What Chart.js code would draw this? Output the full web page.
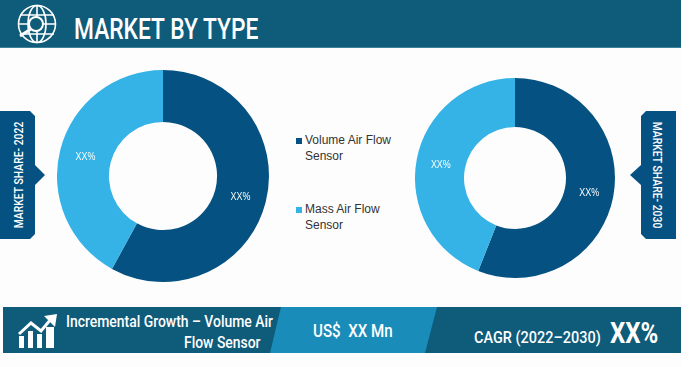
<!DOCTYPE html>
<html lang="en">
<head>
<meta charset="UTF-8" />
<title>Market by Type</title>
<script src="https://cdn.jsdelivr.net/npm/chart.js"></script>
<style>
  html, body { margin: 0; padding: 0; background: #fff; }
  body { width: 690px; height: 367px; position: relative; overflow: hidden; font-family: Roboto, sans-serif; }
  #page { position: absolute; left: 0; top: 0; width: 681px; height: 367px; background: #fdfdfd; }
  canvas { position: absolute; }
  #shapes { position: absolute; left: 0; top: 0; }
  .t { position: absolute; color: #fff; white-space: nowrap; font-weight: 500; transform-origin: left top; }
  .side { position: absolute; color: #fff; white-space: nowrap; font-size: 13px; font-weight: 500; }
  #legend div { position: absolute; font: 12px/15.5px "Liberation Sans", Arial, sans-serif; color: #333; }
  #legend i { position: absolute; width: 6px; height: 6px; }
</style>
</head>
<body>
<div id="page"></div>
<svg id="shapes" width="690" height="367" fill="none">
  <rect x="0" y="0" width="681" height="48" fill="#0f5b7a"/>
  <rect x="0" y="47" width="681" height="1" fill="#3d8099"/>
  <rect x="3" y="307" width="678" height="46" fill="#0f5b7a"/>
  <polygon points="281,307 437,307 425,353 270,353" fill="#1a8cba"/>
  <polygon points="0,111 30,111 35,116 35,165 45,175 35,185 35,234 30,239 0,239" fill="#055282"/>
  <polygon points="676,111 646,111 641,116 641,165 630,175 641,185 641,234 646,239 676,239" fill="#055282"/>
  <!-- globe icon -->
  <g stroke="#fff" stroke-width="1.6">
    <circle cx="37" cy="24" r="18.5"/>
    <ellipse cx="37" cy="24" rx="9" ry="18.5"/>
    <path d="M37 5.5V42.5M20 15H54M19 24H55M20 34H54"/>
  </g>
  <circle cx="36" cy="24" r="7" fill="#0f5b7a" stroke="#fff" stroke-width="2"/>
  <path d="M31 29L20 36" stroke="#fff" stroke-width="3"/>
  <!-- growth icon -->
  <g fill="#fff">
    <rect x="19" y="336" width="5" height="12"/><rect x="28" y="331" width="5" height="17"/>
    <rect x="37" y="334" width="5" height="14"/><rect x="46" y="327" width="8" height="21"/>
    <polygon points="44,316 57,314 55,327"/>
  </g>
  <polyline points="19,334 31,323 41,331 51,319" stroke="#fff" stroke-width="3"/>
</svg>

<canvas id="chart2022" width="212" height="212" style="left:57px;top:70px"></canvas>
<canvas id="chart2030" width="200" height="200" style="left:415px;top:78px"></canvas>

<div id="legend"></div>

<div class="t" style="left:74px;top:11px;font-size:30px;transform:scaleX(.76)">MARKET BY TYPE</div>
<div class="t" style="left:66px;top:312px;font-size:16px;transform:scaleX(.87)">Incremental Growth – Volume Air</div>
<div class="t" style="left:184px;top:333px;font-size:16px;transform:scaleX(.87)">Flow Sensor</div>
<div class="t" style="left:313px;top:320px;font-size:18px;transform:scaleX(.84)">US$&nbsp; XX Mn</div>
<div class="t" style="left:474px;top:328px;font-size:16px;transform:scaleX(.905)">CAGR (2022–2030)</div>
<div class="t" style="left:610px;top:316px;font-size:29px;font-weight:700;transform:scaleX(.83)">XX%</div>
<div class="side" style="left:18px;top:175px;transform:translate(-50%,-50%) rotate(-90deg) scaleX(.8)">MARKET SHARE- 2022</div>
<div class="side" style="left:657px;top:175px;transform:translate(-50%,-50%) rotate(90deg) scaleX(.8)">MARKET SHARE- 2030</div>

<script>
const categories = ['Volume Air Flow Sensor', 'Mass Air Flow Sensor'];
const legendLines = [['Volume Air Flow', 'Sensor'], ['Mass Air Flow', 'Sensor']];
const share2022 = [58, 42];
const share2030 = [56, 44];
const sliceLabel = 'XX%';
const colors = ['#055282', '#35b2e6'];

// writes the masked XX% on each slice
const sliceLabels = {
  id: 'sliceLabels',
  afterDatasetsDraw(chart) {
    const ctx = chart.ctx;
    chart.getDatasetMeta(0).data.forEach(arc => {
      const p = arc.getCenterPoint();
      ctx.save();
      ctx.translate(p.x, p.y);
      ctx.scale(0.85, 1);
      ctx.font = '10.5px "Liberation Sans", Arial, sans-serif';
      ctx.fillStyle = '#fff';
      ctx.textAlign = 'center';
      ctx.textBaseline = 'middle';
      ctx.fillText(sliceLabel, 0, 1);
      ctx.restore();
    });
  }
};

function donut(id, values) {
  return new Chart(document.getElementById(id), {
    type: 'doughnut',
    data: {
      labels: categories,
      datasets: [{ data: values, backgroundColor: colors, borderWidth: 0 }]
    },
    options: {
      responsive: false,
      animation: false,
      cutout: '51%',
      plugins: { legend: { display: false }, tooltip: { enabled: false } }
    },
    plugins: [sliceLabels]
  });
}

donut('chart2022', share2022);
donut('chart2030', share2030);

const legendBox = document.getElementById('legend');
const legendTops = [133, 202];
legendLines.forEach((lines, i) => {
  const swatch = document.createElement('i');
  swatch.style.cssText = `left:296px;top:${legendTops[i] + 5}px;background:${colors[i]}`;
  legendBox.appendChild(swatch);
  const label = document.createElement('div');
  label.style.cssText = `left:305px;top:${legendTops[i]}px`;
  label.innerHTML = lines.join('<br>');
  legendBox.appendChild(label);
});
</script>
</body>
</html>
